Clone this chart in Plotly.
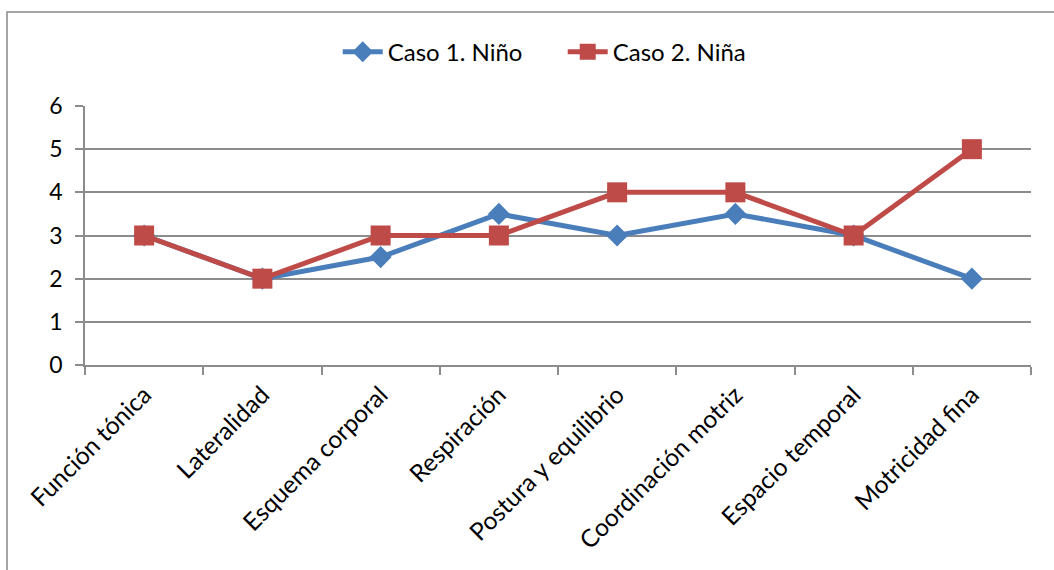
import plotly.graph_objects as go

categorias = ["Función tónica", "Lateralidad", "Esquema corporal", "Respiración",
              "Postura y equilibrio", "Coordinación motriz", "Espacio temporal", "Motricidad fina"]
caso1_nino = [3, 2, 2.5, 3.5, 3, 3.5, 3, 2]
caso2_nina = [3, 2, 3, 3, 4, 4, 3, 5]

FONT = "Lato"
GRID = "#8c8c8c"

fig = go.Figure()
fig.add_trace(go.Scatter(
    x=categorias, y=caso1_nino, mode="lines+markers", name="Caso 1. Niño",
    line=dict(color="#4a7ebb", width=5),
    marker=dict(symbol="diamond", size=17, color="#4a7ebb"),
))
fig.add_trace(go.Scatter(
    x=categorias, y=caso2_nina, mode="lines+markers", name="Caso 2. Niña",
    line=dict(color="#be4b48", width=5),
    marker=dict(symbol="square", size=20, color="#be4b48"),
))

fig.update_layout(
    width=1054, height=570,
    margin=dict(l=85, r=23, t=106, b=205),
    paper_bgcolor="white", plot_bgcolor="white",
    font=dict(family=FONT, size=24, color="#000000"),
    showlegend=True,
    legend=dict(orientation="h", x=0.505, y=1.208, xanchor="center", yanchor="middle",
                font=dict(size=24), itemwidth=40, traceorder="normal",
                entrywidth=170, entrywidthmode="pixels"),
    xaxis=dict(
        type="category", range=[-0.5, 7.5], tickangle=-45,
        showline=True, linecolor=GRID, linewidth=1.5,
        ticks="outside", tickson="boundaries", ticklen=8, tickcolor=GRID, tickwidth=1.5,
        showgrid=False, tickfont=dict(size=24.5), ticklabelstandoff=4,
    ),
    yaxis=dict(
        range=[0, 6], dtick=1, showline=True, linecolor=GRID, linewidth=1.5,
        ticks="outside", ticklen=8, tickcolor=GRID, tickwidth=1.5,
        showgrid=True, gridcolor=GRID, gridwidth=1.5, zeroline=False,
        tickfont=dict(size=23), ticklabelstandoff=8,
    ),
    shapes=[dict(type="rect", xref="paper", yref="paper",
                 x0=(7 - 85) / 946, x1=(1070 - 85) / 946,
                 y0=(365 - 590) / 259, y1=(365 - 12) / 259,
                 line=dict(color="#888888", width=1.5), fillcolor="rgba(0,0,0,0)",
                 layer="below")],
)

fig.write_html("out.html")
